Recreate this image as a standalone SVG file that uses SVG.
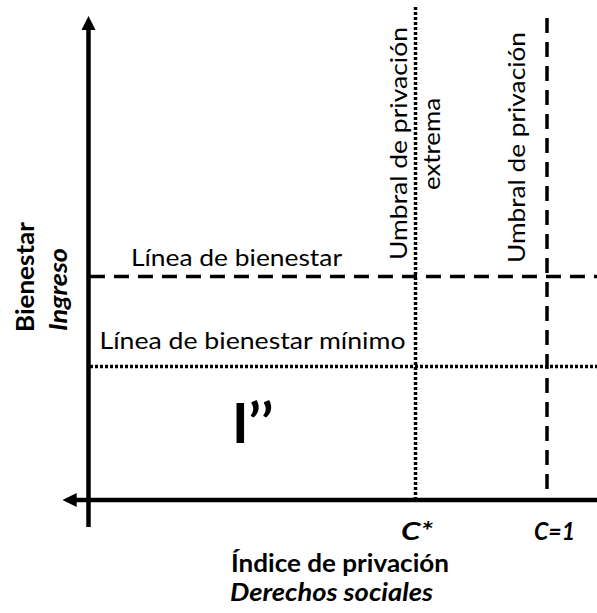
<svg xmlns="http://www.w3.org/2000/svg" width="597" height="613" viewBox="0 0 597 613">
  <style>
    .axis { stroke: #000; stroke-width: 4.5; fill: none; }
    .dash { stroke: #000; stroke-width: 3.5; fill: none; stroke-dasharray: 15 9; }
    .dot { stroke: #000; stroke-width: 3.5; fill: none; stroke-dasharray: 3 2; }
    .t { font-family: Lato, "Liberation Sans", sans-serif; fill: #000; }
    .reg { font-size: 24px; }
    .bold { font-size: 24px; font-weight: bold; }
    .bi { font-size: 24px; font-weight: bold; font-style: italic; }
  </style>
  <rect width="597" height="613" fill="#fff"/>
  <g id="connectors">
    <g id="threshold-lines">
      <line class="dash" x1="90" y1="276.5" x2="597" y2="276.5"/>
      <line class="dot" x1="90" y1="366.5" x2="597" y2="366.5"/>
      <line class="dot" x1="415.5" y1="7" x2="415.5" y2="498"/>
      <line class="dash" x1="547" y1="18" x2="547" y2="498"/>
    </g>
    <g id="axes">
      <line class="axis" x1="88.5" y1="527" x2="88.5" y2="29"/>
      <polygon points="88.5,16 81.5,30 95.5,30" fill="#000"/>
      <line class="axis" x1="597" y1="500" x2="76" y2="500"/>
      <polygon points="62.5,500 76.7,493 76.7,507" fill="#000"/>
    </g>
  </g>
  <g id="label-umbral-extrema">
    <text class="t reg" transform="translate(406.5,260) rotate(-90)" textLength="233" lengthAdjust="spacingAndGlyphs">Umbral de privación</text>
    <text class="t reg" transform="translate(439.5,190) rotate(-90)" textLength="92" lengthAdjust="spacingAndGlyphs">extrema</text>
  </g>
  <g id="label-umbral">
    <text class="t reg" transform="translate(524.5,263) rotate(-90)" textLength="231" lengthAdjust="spacingAndGlyphs">Umbral de privación</text>
  </g>
  <g id="label-linea-bienestar">
    <text class="t reg" x="131" y="266" textLength="211" lengthAdjust="spacingAndGlyphs">Línea de bienestar</text>
  </g>
  <g id="label-linea-minimo">
    <text class="t reg" x="99.5" y="348.5" textLength="306" lengthAdjust="spacingAndGlyphs">Línea de bienestar mínimo</text>
  </g>
  <g id="label-region">
    <text class="t" x="232" y="443" style="font-size:56px;font-weight:bold">I’’</text>
  </g>
  <g id="label-y-axis">
    <text class="t bold" transform="translate(33.5,332) rotate(-90)" textLength="110" lengthAdjust="spacingAndGlyphs">Bienestar</text>
    <text class="t bi" transform="translate(67,331) rotate(-90)" textLength="83" lengthAdjust="spacingAndGlyphs">Ingreso</text>
  </g>
  <g id="label-c-star">
    <text class="t bi" x="401" y="540" textLength="32" lengthAdjust="spacingAndGlyphs">C*</text>
  </g>
  <g id="label-c-one">
    <text class="t bi" x="534" y="540" textLength="41" lengthAdjust="spacingAndGlyphs">C=1</text>
  </g>
  <g id="label-x-axis">
    <text class="t bold" x="231" y="572" textLength="218" lengthAdjust="spacingAndGlyphs">Índice de privación</text>
    <text class="t bi" x="230" y="601" textLength="203" lengthAdjust="spacingAndGlyphs">Derechos sociales</text>
  </g>
</svg>
